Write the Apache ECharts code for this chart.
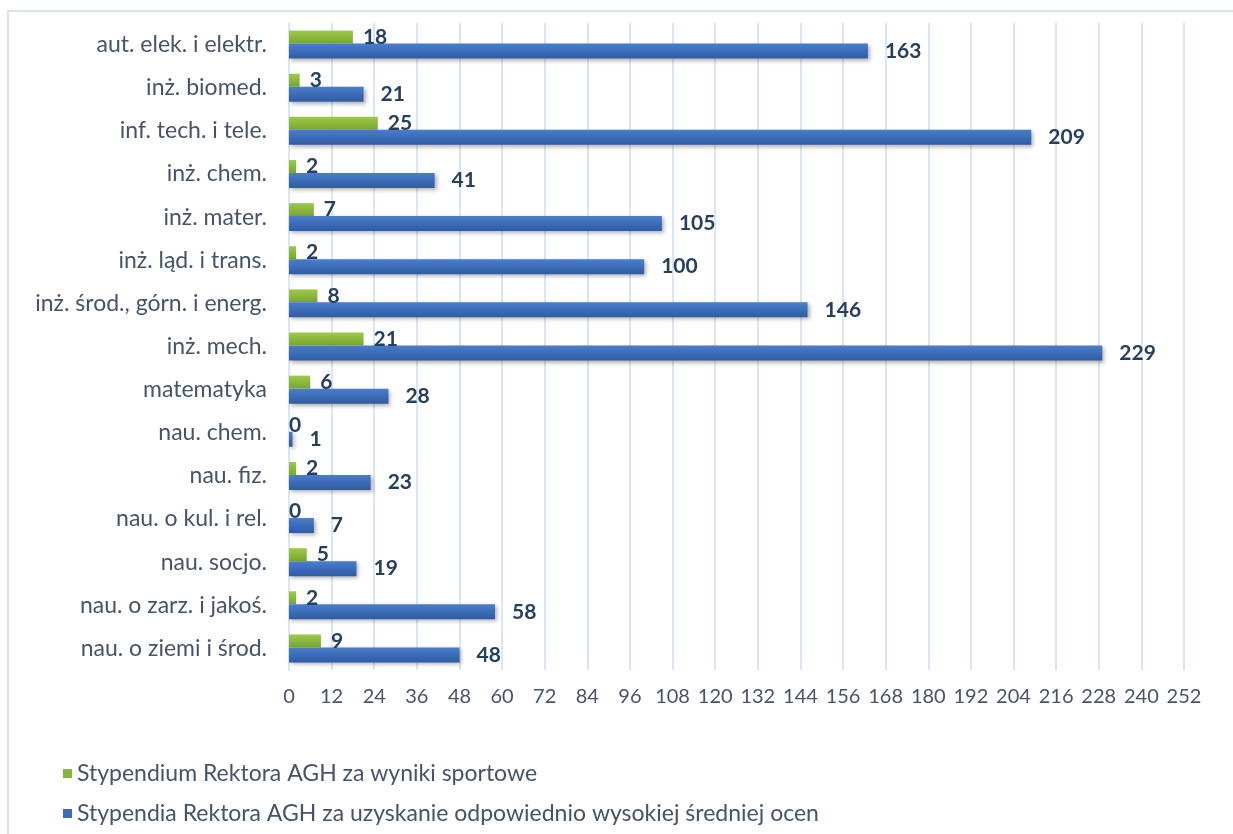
<!DOCTYPE html>
<html>
<head>
<meta charset="utf-8">
<script src="https://cdn.jsdelivr.net/npm/echarts@6/dist/echarts.min.js"></script>
<style>
  html, body { margin: 0; padding: 0; background: #fff; }
  #main { width: 1233px; height: 834px; }
</style>
</head>
<body>
<div id="main"></div>
<script>
// kierunki studiów (od góry)
const categories = [
  'aut. elek. i elektr.', 'inż. biomed.', 'inf. tech. i tele.', 'inż. chem.',
  'inż. mater.', 'inż. ląd. i trans.', 'inż. środ., górn. i energ.', 'inż. mech.',
  'matematyka', 'nau. chem.', 'nau. fiz.', 'nau. o kul. i rel.', 'nau. socjo.',
  'nau. o zarz. i jakoś.', 'nau. o ziemi i środ.'
];
const sportowe = [18, 3, 25, 2, 7, 2, 8, 21, 6, 0, 2, 0, 5, 2, 9];
const srednia = [163, 21, 209, 41, 105, 100, 146, 229, 28, 1, 23, 7, 19, 58, 48];
const seriesNames = [
  'Stypendium Rektora AGH za wyniki sportowe',
  'Stypendia Rektora AGH za uzyskanie odpowiednio wysokiej średniej ocen'
];

const txt = '#44546a';
const lab = '#243f60';
const font = 'Lato, "Open Sans", sans-serif';

const chart = echarts.init(document.getElementById('main'));

// etykieta zera stoi tuż przy osi
const greenData = sportowe.map(v => v === 0 ? { value: v, label: { distance: 0 } } : v);

let option = {
  backgroundColor: '#fff',
  textStyle: { fontFamily: font },
  graphic: [{
    type: 'rect',
    shape: { x: 8, y: 11, width: 1240, height: 840 },
    style: { fill: 'none', stroke: '#d6e3f5', lineWidth: 2 },
    silent: true
  }],
  grid: { left: 289, right: 49, top: 23, bottom: 164 },
  legend: {
    orient: 'vertical',
    left: 58,
    top: 757,
    itemWidth: 9,
    itemHeight: 9,
    itemGap: 17,
    icon: 'rect',
    textStyle: { color: txt, fontSize: 23, fontFamily: font },
    data: seriesNames
  },
  xAxis: {
    type: 'value',
    min: 0,
    max: 252,
    interval: 12,
    axisLine: { show: false },
    axisTick: { show: false },
    splitLine: { show: true, lineStyle: { color: '#dae6f5', width: 2 } },
    axisLabel: { color: txt, fontSize: 20, margin: 17, fontFamily: font }
  },
  yAxis: {
    type: 'category',
    inverse: true,
    data: categories,
    axisLine: { show: true, lineStyle: { color: '#dae6f5', width: 2 } },
    axisTick: { show: false },
    axisLabel: { color: txt, fontSize: 23, margin: 22, fontFamily: font }
  },
  series: [
    {
      name: seriesNames[0],
      type: 'bar',
      data: greenData,
      barWidth: 13,
      barGap: '0%',
      itemStyle: {
        color: new echarts.graphic.LinearGradient(0, 0, 0, 1, [
          { offset: 0, color: '#9dca4c' },
          { offset: 1, color: '#78a62e' }
        ])
      },
      label: {
        show: true, position: 'right', distance: 10,
        color: lab, fontSize: 21, fontWeight: 'bold', fontFamily: font
      }
    },
    {
      name: seriesNames[1],
      type: 'bar',
      data: srednia,
      barWidth: 15,
      barGap: '0%',
      itemStyle: {
        color: new echarts.graphic.LinearGradient(0, 0, 0, 1, [
          { offset: 0, color: '#4a7dcb' },
          { offset: 1, color: '#2f5ca3' }
        ]),
        shadowColor: 'rgba(0,0,0,0.3)',
        shadowBlur: 4,
        shadowOffsetX: 2,
        shadowOffsetY: 2
      },
      label: {
        show: true, position: 'right', distance: 17,
        color: lab, fontSize: 21, fontWeight: 'bold', fontFamily: font
      }
    }
  ]
};

option.legend.data = [
  { name: seriesNames[0], itemStyle: { color: '#86b53a' } },
  { name: seriesNames[1], itemStyle: { color: '#3a6cbb' } }
];

chart.setOption(option);
</script>
</body>
</html>
